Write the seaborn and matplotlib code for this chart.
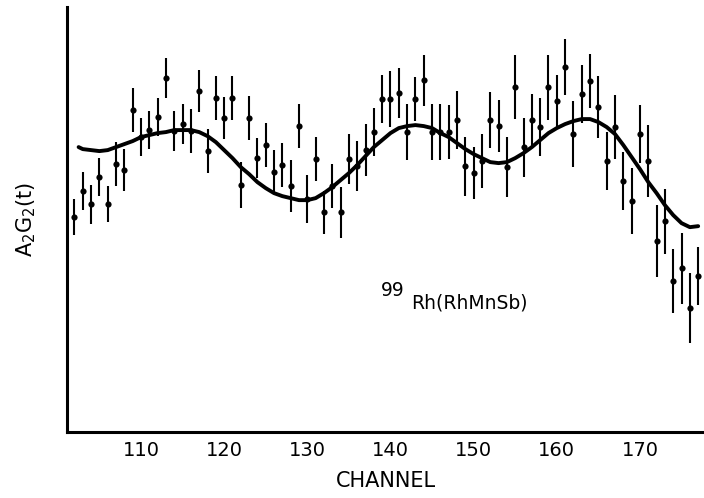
import matplotlib
matplotlib.use('Agg')
import matplotlib.pyplot as plt
import numpy as np
import pandas as pd
import seaborn as sns

# 测量点（道址、A2G2(t) 任意单位、误差）
channel = list(range(102, 178))
a2g2 = [215, 241, 228, 255, 228, 268, 262, 322, 295, 302,
        315, 354, 301, 308, 301, 341, 281, 334, 314, 334,
        247, 314, 274, 287, 260, 267, 246, 306, 233, 273,
        220, 246, 220, 273, 266, 282, 300, 333, 333, 339,
        300, 333, 352, 300, 300, 300, 312, 266, 259, 271,
        312, 306, 265, 345, 285, 312, 305, 345, 331, 365,
        298, 338, 351, 325, 271, 305, 251, 231, 298, 271,
        191, 211, 151, 164, 124, 156]
err = [18, 19, 19.5, 19, 18, 22, 21, 22, 19, 19,
       19, 20, 20, 20, 22, 21, 22, 22, 21, 22,
       23, 22, 20, 22, 22, 22, 26, 22, 24, 22,
       21.5, 22, 25.5, 25, 25, 26, 24, 24, 28, 25,
       28, 22, 25.5, 28, 28, 27, 29, 29.5, 26, 27,
       28, 26, 30, 32, 29.5, 26, 29, 32.5, 26, 28,
       33, 29, 27, 31, 29, 32, 29, 33, 29, 36,
       36, 32.5, 32, 35.5, 35, 29]

# 拟合曲线
fit_channel = [102.5] + list(range(103, 178))
fit_value = [285, 283, 282, 281, 282, 285, 288, 291, 295, 297,
             299, 300, 302, 302, 302, 300, 296, 290, 282, 274,
             265, 258, 250, 244, 239, 236, 234, 232, 232, 234,
             239, 245, 252, 259, 267, 276, 285, 292, 299, 304,
             306, 307, 306, 304, 299, 295, 289, 283, 278, 274,
             270, 269, 270, 274, 279, 285, 292, 299, 304, 308,
             311, 313, 313, 310, 305, 298, 287, 275, 263, 250,
             239, 227, 217, 209, 205, 206]

xticks = [110, 120, 130, 140, 150, 160, 170]

sns.set_style('white')
plt.rcParams['font.family'] = ['DejaVu Sans']
plt.rcParams['text.color'] = 'black'
plt.rcParams['axes.labelcolor'] = 'black'
plt.rcParams['xtick.color'] = 'black'

df = pd.DataFrame({'channel': channel, 'a2g2': a2g2, 'err': err})
fit = pd.DataFrame({'channel': fit_channel, 'value': fit_value})

fig = plt.figure(figsize=(7.04, 4.98), dpi=100)
ax = fig.add_axes([67.3 / 704, (498 - 432.3) / 498, (704 - 67.3) / 704, (432.3 - 7) / 498])

ax.errorbar(df['channel'], df['a2g2'], yerr=df['err'], fmt='none', ecolor='black',
            elinewidth=1.5, capsize=0, zorder=2)
sns.scatterplot(data=df, x='channel', y='a2g2', color='black', s=20, linewidth=0, ax=ax, zorder=3)
sns.lineplot(data=fit, x='channel', y='value', color='black', linewidth=2.8, ax=ax, zorder=4)

ax.set_xlim(101.14, 177.7)
ax.set_ylim(0, 425)
ax.set_xticks(xticks)
ax.set_xticklabels([str(t) for t in xticks], fontsize=14)
ax.set_yticks([])
ax.tick_params(axis='x', direction='in', length=7, width=1.8, pad=6, colors='black')
for side in ['top', 'right']:
    ax.spines[side].set_visible(False)
for side in ['left', 'bottom']:
    ax.spines[side].set_linewidth(2.2)
    ax.spines[side].set_color('black')

ax.set_xlabel('CHANNEL', fontsize=15, labelpad=8)
ax.set_ylabel(r'$\mathregular{A_2G_2(t)}$', fontsize=15, labelpad=21)

ax.text(138.9, 136, '99', fontsize=13.5, ha='left', va='baseline')
ax.text(142.5, 124, 'Rh(RhMnSb)', fontsize=13.5, ha='left', va='baseline')

fig.savefig('out.png', dpi=100)
